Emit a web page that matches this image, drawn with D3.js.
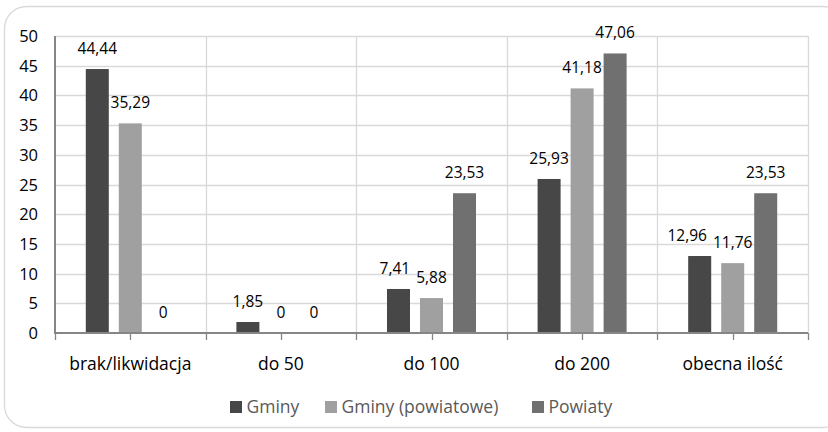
<!DOCTYPE html>
<html>
<head>
<meta charset="utf-8">
<script src="https://cdn.jsdelivr.net/npm/d3@7/dist/d3.min.js"></script>
<style>
  html, body { margin: 0; padding: 0; background: #fff; }
  svg { display: block; font-family: "Open Sans", "Noto Sans", sans-serif; }
</style>
</head>
<body>
<svg id="chart" width="828" height="432"></svg>
<script>
// Categories, series and values
const categories = ["brak/likwidacja", "do 50", "do 100", "do 200", "obecna ilość"];
const seriesNames = ["Gminy", "Gminy (powiatowe)", "Powiaty"];
const gminy = [44.44, 1.85, 7.41, 25.93, 12.96];
const gminyPowiatowe = [35.29, 0, 5.88, 41.18, 11.76];
const powiaty = [0, 0, 23.53, 47.06, 23.53];
const yTicks = [0, 5, 10, 15, 20, 25, 30, 35, 40, 45, 50];
const seriesColors = ["#474747", "#a0a0a0", "#707070"];

const seriesValues = [gminy, gminyPowiatowe, powiaty];
const fmt = v => String(v).replace(".", ",");

const svg = d3.select("#chart");
const plot = { left: 55, right: 808, top: 36, bottom: 333 };

// Outer chart frame
svg.append("rect")
  .attr("x", 4.5).attr("y", 6.5)
  .attr("width", 840).attr("height", 421)
  .attr("rx", 22).attr("ry", 22)
  .attr("fill", "#fff").attr("stroke", "#d9d9d9").attr("stroke-width", 1.3);

const x = d3.scaleBand().domain(categories).range([plot.left, plot.right]).paddingInner(0).paddingOuter(0);
const xs = d3.scaleBand().domain(seriesNames).range([0, x.bandwidth()])
  .paddingInner(0.303).paddingOuter(0.933);
const y = d3.scaleLinear().domain([0, 50]).range([plot.bottom, plot.top]);

// Horizontal gridlines
svg.append("g").selectAll("line").data(yTicks.filter(t => t > 0)).join("line")
  .attr("x1", plot.left).attr("x2", plot.right)
  .attr("y1", d => Math.round(y(d)) + 0.5).attr("y2", d => Math.round(y(d)) + 0.5)
  .attr("stroke", "#d9d9d9").attr("stroke-width", 1.3);

// Vertical gridlines at category boundaries
const boundaries = categories.slice(1).map(c => x(c)).concat([plot.right]);
svg.append("g").selectAll("line").data(boundaries).join("line")
  .attr("x1", d => Math.round(d) + 0.5).attr("x2", d => Math.round(d) + 0.5)
  .attr("y1", plot.top).attr("y2", plot.bottom)
  .attr("stroke", "#d9d9d9").attr("stroke-width", 1.3);

// Bars
const flat = [];
categories.forEach((c, ci) => seriesNames.forEach((s, si) => {
  flat.push({ c, s, si, v: seriesValues[si][ci] });
}));
svg.append("g").selectAll("rect").data(flat).join("rect")
  .attr("x", d => x(d.c) + xs(d.s))
  .attr("width", xs.bandwidth())
  .attr("y", d => y(d.v))
  .attr("height", d => y(0) - y(d.v))
  .attr("fill", d => seriesColors[d.si]);

// Value labels, nudged left when they would collide with a neighbour
const labelG = svg.append("g").attr("font-size", 15.5).attr("fill", "#000");
categories.forEach(c => {
  const items = flat.filter(d => d.c === c).map(d => {
    const t = labelG.append("text").attr("text-anchor", "middle").text(fmt(d.v));
    const cx = x(d.c) + xs(d.s) + xs.bandwidth() / 2;
    const by = y(d.v) - 15;
    t.attr("x", cx).attr("y", by);
    const w = t.node().getComputedTextLength();
    return { t, cx, by, w };
  });
  for (let i = items.length - 2; i >= 0; i--) {
    const a = items[i], b = items[i + 1];
    const vOverlap = Math.abs(a.by - b.by) < 14;
    const gap = (b.cx - b.w / 2) - (a.cx + a.w / 2);
    if (vOverlap && gap < 6) {
      a.cx -= (6 - gap);
      a.t.attr("x", a.cx);
    }
  }
});

// Axes
svg.append("line")
  .attr("x1", plot.left).attr("x2", plot.right)
  .attr("y1", plot.bottom).attr("y2", plot.bottom)
  .attr("stroke", "#868686").attr("stroke-width", 2);
svg.append("line")
  .attr("x1", plot.left).attr("x2", plot.left)
  .attr("y1", plot.top).attr("y2", plot.bottom + 1)
  .attr("stroke", "#868686").attr("stroke-width", 2);

// Tick marks at boundaries and category centres
const tickXs = [plot.left].concat(boundaries).concat(categories.map(c => x(c) + x.bandwidth() / 2));
svg.append("g").selectAll("line").data(tickXs).join("line")
  .attr("x1", d => Math.round(d) + 0.5).attr("x2", d => Math.round(d) + 0.5)
  .attr("y1", plot.bottom).attr("y2", plot.bottom + 7)
  .attr("stroke", "#868686").attr("stroke-width", 1.3);

// Y tick labels
svg.append("g").selectAll("text").data(yTicks).join("text")
  .attr("x", 38).attr("y", d => y(d) + 6)
  .attr("text-anchor", "end").attr("font-size", 16.5).attr("fill", "#000")
  .text(d => d);

// Category labels
svg.append("g").selectAll("text").data(categories).join("text")
  .attr("x", d => x(d) + x.bandwidth() / 2).attr("y", 370)
  .attr("text-anchor", "middle").attr("font-size", 17.5).attr("fill", "#000")
  .text(d => d);

// Legend
const legendX = [230, 325, 532];
const lg = svg.append("g");
seriesNames.forEach((s, i) => {
  lg.append("rect").attr("x", legendX[i]).attr("y", 401).attr("width", 12).attr("height", 12)
    .attr("fill", seriesColors[i]);
  lg.append("text").attr("x", legendX[i] + 16.5).attr("y", 413)
    .attr("font-size", 17.5).attr("fill", "#595959").text(s);
});
</script>
</body>
</html>
